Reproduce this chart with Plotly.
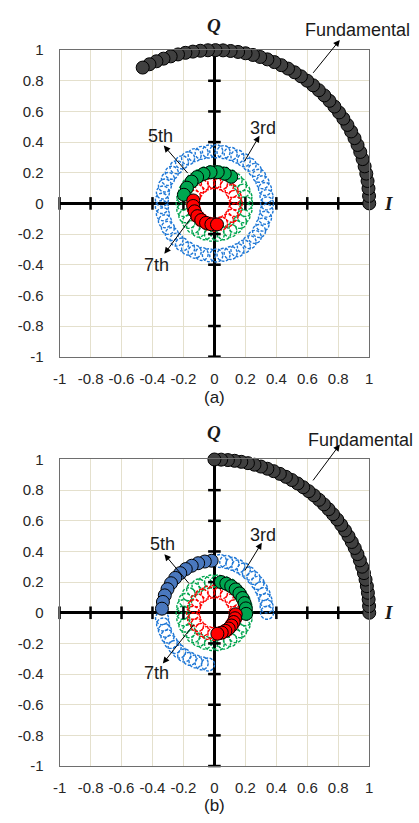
import math
import plotly.graph_objects as go

# ---------------------------------------------------------------
# Phasor samples: phase angles in degrees, amplitudes in per unit
# ---------------------------------------------------------------
fund_amp = 1.0
h3_amp = 0.34
h5_amp = 0.205
h7_amp = 0.138

# panel (a)
fund_ang_a = [0, 2.8, 5.6, 8.4, 11.2, 14, 16.8, 19.6, 22.4, 25.2, 28, 30.8, 33.6,
              36.4, 39.2, 42, 44.8, 47.6, 50.4, 53.2, 56, 58.8, 61.6, 64.4, 67.2,
              70, 72.8, 75.6, 78.4, 81.2, 84, 86.8, 89.6, 92.4, 95.2, 98, 100.8,
              103.6, 106.4, 109.2, 112, 114.8, 117.6]
h3_ring_a = [0, 8, 16, 24, 32, 40, 48, 56, 64, 72, 80, 88, 96, 104, 112, 120, 128,
             136, 144, 152, 160, 168, 176, 184, 192, 200, 208, 216, 224, 232, 240,
             248, 256, 264, 272, 280, 288, 296, 304, 312, 320, 328, 336, 344, 352]
h5_ring_a = [0, 12, 24, 36, 48, 60, 72, 84, 96, 108, 120, 132, 144, 156, 168, 180,
             192, 204, 216, 228, 240, 252, 264, 276, 288, 300, 312, 324, 336, 348]
h7_ring_a = [0, 18, 36, 54, 72, 90, 108, 126, 144, 162, 180, 198, 216, 234, 252,
             270, 288, 306, 324, 342]
h5_pts_a = [58, 71, 84, 97, 110, 123, 136, 150, 164]
h7_pts_a = [172, 187, 202, 217, 232, 247, 262, 277]

# panel (b)
fund_ang_b = [0, 2.5, 5, 7.5, 10, 12.5, 15, 17.5, 20, 22.5, 25, 27.5, 30, 32.5, 35,
              37.5, 40, 42.5, 45, 47.5, 50, 52.5, 55, 57.5, 60, 62.5, 65, 67.5, 70,
              72.5, 75, 77.5, 80, 82.5, 85, 87.5, 90]
h3_ring_b = [0, 7, 14, 21, 28, 35, 42, 49, 56, 63, 70, 77, 84,
             186, 193, 200, 207, 214, 221, 228, 235, 242, 249, 256, 263]
h3_pts_b = [93, 100.5, 108, 115.5, 123, 130.5, 138, 145.5, 153, 160.5, 168, 175.5]
h5_ring_b = [0, 12, 24, 36, 48, 60, 72, 84, 96, 108, 120, 132, 144, 156, 168, 180,
             192, 204, 216, 228, 240, 252, 264, 276, 288, 300, 312, 324, 336, 348]
h5_pts_b = [78, 68, 58, 48, 38, 28, 18, 8, -2]
h7_ring_b = [0, 18, 36, 54, 72, 90, 108, 126, 144, 162, 180, 198, 216, 234, 252,
             270, 288, 306, 324, 342]
h7_pts_b = [-4, -15, -26, -37, -48, -59, -70, -82]

tick_vals = [-1, -0.8, -0.6, -0.4, -0.2, 0, 0.2, 0.4, 0.6, 0.8, 1]
tick_text = ["-1", "-0.8", "-0.6", "-0.4", "-0.2", "0", "0.2", "0.4", "0.6", "0.8", "1"]

# colours
C_FUND = "#404040"
C_H3 = "#1f78d6"
C_H3_FILL = "#4a78be"
C_H5 = "#00a650"
C_H7 = "#ff0000"
GRID = "#e4e0cd"


def iq(amp, angles):
    """Convert amplitude / phase (deg) to in-phase and quadrature parts."""
    i = [amp * math.cos(math.radians(a)) for a in angles]
    q = [amp * math.sin(math.radians(a)) for a in angles]
    return i, q


fig = go.Figure()
shapes = []
annotations = []

MS = 13  # marker diameter in px


def filled(xa, ya, amp, angles, color):
    i, q = iq(amp, angles)
    fig.add_trace(go.Scatter(
        x=i, y=q, xaxis=xa, yaxis=ya, mode="markers", showlegend=False,
        hoverinfo="skip", cliponaxis=False,
        marker=dict(size=MS, color=color, line=dict(color="black", width=1)),
    ))


def dashed_ring(xa, ya, amp, angles, color):
    i, q = iq(amp, angles)
    for xi, yi in zip(i, q):
        shapes.append(dict(
            type="circle", xref=xa, yref=ya, xsizemode="pixel", ysizemode="pixel",
            xanchor=xi, yanchor=yi, x0=-MS / 2, x1=MS / 2, y0=-MS / 2, y1=MS / 2,
            line=dict(color=color, width=1.4, dash="3px,1.5px"), layer="between",
        ))


def axis_ticks(xa, ya):
    # small cross ticks along the thick I and Q axes
    vt = [v for v in tick_vals if v != 0]
    fig.add_trace(go.Scatter(
        x=[0] * len(vt), y=vt, xaxis=xa, yaxis=ya, mode="markers", showlegend=False,
        hoverinfo="skip", cliponaxis=False,
        marker=dict(symbol="line-ew", size=9, line=dict(color="black", width=2.5)),
    ))
    fig.add_trace(go.Scatter(
        x=vt, y=[0] * len(vt), xaxis=xa, yaxis=ya, mode="markers", showlegend=False,
        hoverinfo="skip", cliponaxis=False,
        marker=dict(symbol="line-ns", size=9, line=dict(color="black", width=2.5)),
    ))


def arrow(xr, yr, tip, tail):
    annotations.append(dict(
        xref=xr, yref=yr, axref=xr, ayref=yr, x=tip[0], y=tip[1], ax=tail[0], ay=tail[1],
        text="", showarrow=True, arrowhead=2, arrowsize=1.3, arrowwidth=1,
        arrowcolor="black", standoff=0, startstandoff=0,
    ))


def label(xr, yr, x, y, text, size=18, family="Liberation Sans"):
    # positions are given in axis units and placed via the axis domain so that
    # labels sitting beyond the axis range stay visible
    annotations.append(dict(
        xref=xr + " domain", yref=yr + " domain", x=(x + 1) / 2, y=(y + 1) / 2,
        text=text, showarrow=False,
        font=dict(family=family, size=size, color="#1a1a1a"),
        xanchor="center", yanchor="middle",
    ))


# ---------------- panel (a) ----------------
axis_ticks("x", "y")
dashed_ring("x", "y", h3_amp, h3_ring_a, C_H3)
dashed_ring("x", "y", h5_amp, h5_ring_a, C_H5)
dashed_ring("x", "y", h7_amp, h7_ring_a, C_H7)
filled("x", "y", fund_amp, fund_ang_a, C_FUND)
filled("x", "y", h5_amp, h5_pts_a, C_H5)
filled("x", "y", h7_amp, h7_pts_a, C_H7)

arrow("x", "y", (0.81, 1.066), (0.63, 0.842))
arrow("x", "y", (0.291, 0.442), (0.19, 0.267))
arrow("x", "y", (-0.327, 0.377), (-0.164, 0.188))
arrow("x", "y", (-0.323, -0.329), (-0.145, -0.086))
label("x", "y", 0.925, 1.13, "Fundamental")
label("x", "y", 0.313, 0.49, "3rd")
label("x", "y", -0.346, 0.438, "5th")
label("x", "y", -0.375, -0.403, "7th")
label("x", "y", 0, 1.16, "<b><i>Q</i></b>", size=19, family="Liberation Serif")
label("x", "y", 1.126, 0, "<b><i>I</i></b>", size=19, family="Liberation Serif")

# ---------------- panel (b) ----------------
axis_ticks("x2", "y2")
dashed_ring("x2", "y2", h3_amp, h3_ring_b, C_H3)
dashed_ring("x2", "y2", h5_amp, h5_ring_b, C_H5)
dashed_ring("x2", "y2", h7_amp, h7_ring_b, C_H7)
filled("x2", "y2", fund_amp, fund_ang_b, C_FUND)
filled("x2", "y2", h3_amp, h3_pts_b, C_H3_FILL)
filled("x2", "y2", h5_amp, h5_pts_b, C_H5)
filled("x2", "y2", h7_amp, h7_pts_b, C_H7)

arrow("x2", "y2", (0.81, 1.098), (0.63, 0.854))
arrow("x2", "y2", (0.306, 0.457), (0.19, 0.265))
arrow("x2", "y2", (-0.323, 0.382), (-0.155, 0.18))
arrow("x2", "y2", (-0.333, -0.331), (-0.124, -0.065))
label("x2", "y2", 0.945, 1.128, "Fundamental")
label("x2", "y2", 0.316, 0.506, "3rd")
label("x2", "y2", -0.338, 0.446, "5th")
label("x2", "y2", -0.375, -0.393, "7th")
label("x2", "y2", 0, 1.173, "<b><i>Q</i></b>", size=19, family="Liberation Serif")
label("x2", "y2", 1.126, 0, "<b><i>I</i></b>", size=19, family="Liberation Serif")

W, H = 419, 823

# sub-figure captions
for cap, ypx in (("(a)", 397), ("(b)", 813)):
    annotations.append(dict(
        xref="paper", yref="paper", x=213 / W, y=1 - ypx / H, text=cap, showarrow=False,
        font=dict(family="Liberation Sans", size=17, color="#1a1a1a"),
        xanchor="center", yanchor="middle",
    ))

x_dom = [54 / W, 372 / W]
y_dom_a = [1 - 355 / H, 1 - 42 / H]
y_dom_b = [1 - 773 / H, 1 - 460 / H]

axis_common = dict(
    range=[-1, 1], tickvals=tick_vals, ticktext=tick_text, showgrid=True,
    gridcolor=GRID, gridwidth=1, zeroline=True, zerolinecolor="black",
    zerolinewidth=2.8, showline=True, linecolor="#6e6e6e", linewidth=1, mirror=True,
    ticks="", tickfont=dict(family="Liberation Sans", size=15, color="#262626"),
    fixedrange=True,
)

fig.update_layout(
    width=W, height=H, margin=dict(l=0, r=0, t=0, b=0),
    paper_bgcolor="white", plot_bgcolor="white", showlegend=False,
    xaxis=dict(domain=x_dom, anchor="y", ticklabelstandoff=8, **axis_common),
    yaxis=dict(domain=y_dom_a, anchor="x", ticklabelstandoff=12, **axis_common),
    xaxis2=dict(domain=x_dom, anchor="y2", ticklabelstandoff=8, **axis_common),
    yaxis2=dict(domain=y_dom_b, anchor="x2", ticklabelstandoff=12, **axis_common),
    shapes=shapes, annotations=annotations,
)

fig.write_html("out.html")
